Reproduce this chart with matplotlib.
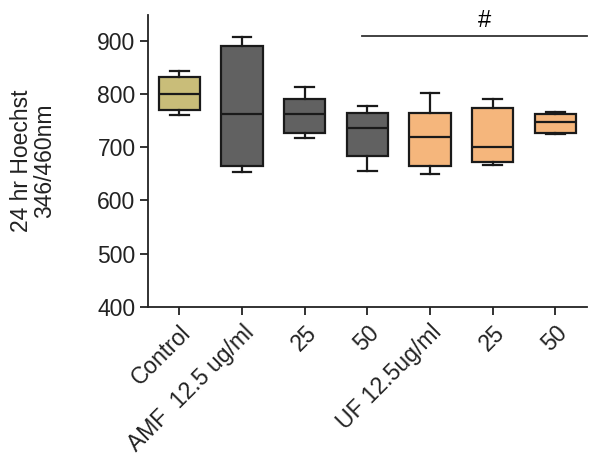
import matplotlib.pyplot as plt
import numpy as np

plt.rcParams['font.family'] = ['Liberation Sans', 'DejaVu Sans']

# groups and box statistics
labels = ["Control", "AMF  12.5 ug/ml", "25", "50", "UF 12.5ug/ml", "25", "50"]
whislo = [760, 653, 717, 655, 650, 666, 725]
q1 = [769, 664, 727, 683, 664, 672, 727]
med = [799, 763, 763, 736, 719, 700, 747]
q3 = [832, 889, 790, 765, 765, 774, 762]
whishi = [843, 906, 812, 777, 802, 790, 766]
colors = ["#c9bd79", "#616161", "#616161", "#616161", "#f5b67c", "#f5b67c", "#f5b67c"]

# significance bar: spans groups 3..6
sig_from, sig_to, sig_y = 2.92, 6.5, 909

stats = []
for i in range(len(labels)):
    stats.append(dict(whislo=whislo[i], q1=q1[i], med=med[i], q3=q3[i],
                      whishi=whishi[i], fliers=[]))

fig = plt.figure(figsize=(6, 4.69), dpi=100)
ax = fig.add_axes([0.2467, 0.3454, 0.7313, 0.6226])

bp = ax.bxp(stats, positions=np.arange(len(labels)), widths=0.66,
            patch_artist=True, showfliers=False, capwidths=0.3,
            boxprops=dict(linewidth=1.6, edgecolor="#1a1a1a"),
            medianprops=dict(color="#1a1a1a", linewidth=1.6),
            whiskerprops=dict(color="#1a1a1a", linewidth=1.6),
            capprops=dict(color="#1a1a1a", linewidth=1.6))
for patch, c in zip(bp["boxes"], colors):
    patch.set_facecolor(c)

ax.plot([sig_from, sig_to], [sig_y, sig_y], color="#333333", lw=1.3,
        clip_on=False)
ax.text(4.87, sig_y + 8, "#", ha="center", va="bottom", fontsize=17)

fs = 16.5
ax.set_xlim(-0.5, 6.5)
ax.set_ylim(400, 948)
ax.set_yticks([400, 500, 600, 700, 800, 900])
ax.set_xticks(np.arange(len(labels)))
ax.set_xticklabels(labels, rotation=45, ha="right", rotation_mode="anchor",
                   fontsize=fs)
ax.tick_params(axis="y", labelsize=fs, length=6, width=1.3, colors="#222222",
               pad=3)
ax.tick_params(axis="x", length=6, width=1.3, colors="#222222", pad=4)
for s in ["top", "right"]:
    ax.spines[s].set_visible(False)
for s in ["left", "bottom"]:
    ax.spines[s].set_linewidth(1.3)
    ax.spines[s].set_color("#222222")

ax.set_ylabel("24 hr Hoechst\n346/460nm", fontsize=fs, labelpad=30,
              color="#222222", linespacing=1.0)

fig.savefig("out.png", dpi=100)
